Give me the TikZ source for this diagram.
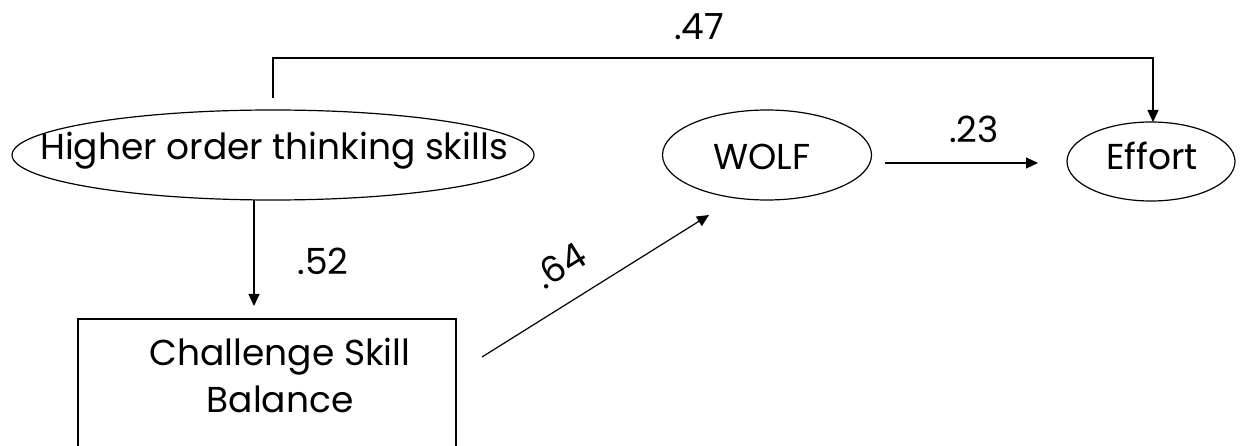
\documentclass[tikz,border=0pt]{standalone}
\usepackage{fontspec}
\setmainfont{Poppins}
\usetikzlibrary{shapes.geometric,arrows.meta}
\begin{document}
\begin{tikzpicture}[x=1pt,y=-1pt,
  lbl/.style={font=\fontsize{36}{47}\selectfont,inner sep=0pt},
  ell/.style={draw,ellipse,line width=1.2pt,inner sep=0pt},
  conn/.style={line width=1.2pt,-{Triangle[length=12pt,width=11pt]}}]
\useasboundingbox (0,0) rectangle (1245,446);
\node[ell,minimum width=522pt,minimum height=90pt] (hots) at (273,155) {};
\node[lbl,anchor=base] (hotst) at (274,160) {Higher order thinking skills};
\node[ell,minimum width=209pt,minimum height=90pt] (wolf) at (767,155) {};
\node[lbl,anchor=base] (wolft) at (762,170) {WOLF};
\node[ell,minimum width=168pt,minimum height=79pt] (effort) at (1151,161.5) {};
\node[lbl,anchor=base] (effortt) at (1152,170) {Effort};
\draw[line width=1.2pt] (78,460) -- (78,319) -- (456,319) -- (456,460);
\node[lbl,anchor=base] (csb1) at (280,365) {Challenge Skill};
\node[lbl,anchor=base] (csb2) at (280,412) {Balance};
\coordinate (topL) at (273,98);
\coordinate (c1) at (273,58);
\coordinate (c2) at (1153,58);
\coordinate (efftop) at (1153,122);
\draw[conn] (topL) -- (c1) -- (c2) -- (efftop);
\coordinate (hbot) at (254,200);
\coordinate (boxtop) at (254,306);
\draw[conn] (hbot) -- (boxtop);
\coordinate (bstart) at (482,357);
\coordinate (wend) at (709,215);
\draw[conn] (bstart) -- (wend);
\coordinate (wr) at (885,163);
\coordinate (el) at (1038,163);
\draw[conn] (wr) -- (el);
\node[lbl,anchor=base] (l47) at (699,40) {.47};
\node[lbl,anchor=base] (l52) at (323,275) {.52};
\node[lbl,rotate=32] (l64) at (560,265) {.64};
\node[lbl,anchor=base] (l23) at (974,143) {.23};
\end{tikzpicture}
\end{document}
